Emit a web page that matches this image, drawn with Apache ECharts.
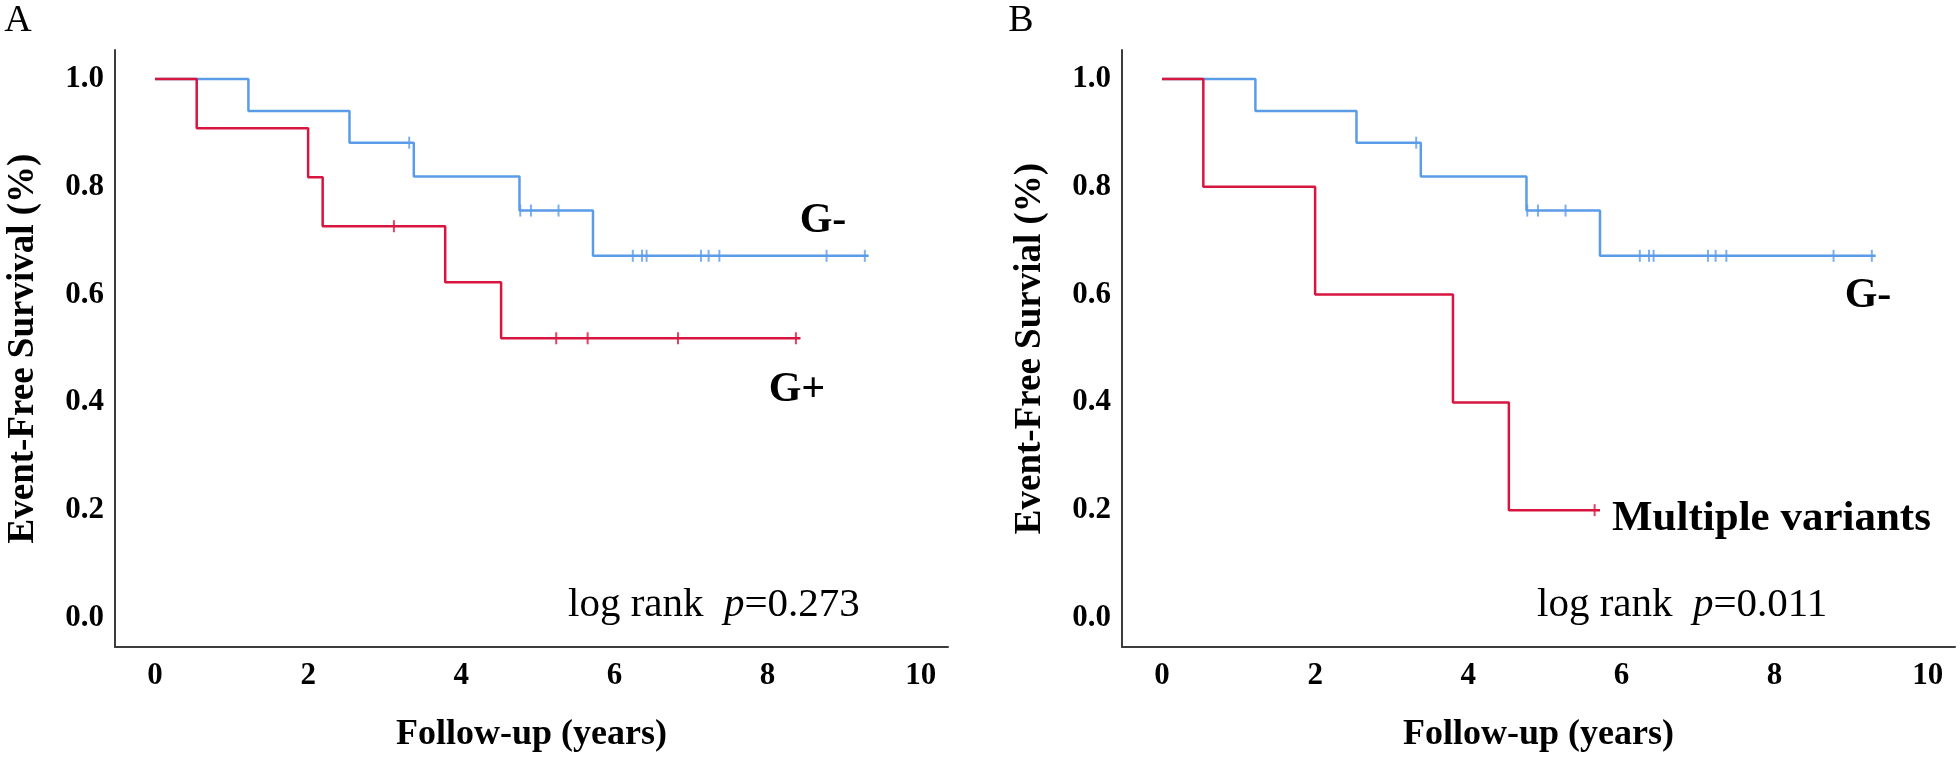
<!DOCTYPE html>
<html>
<head>
<meta charset="utf-8">
<script src="https://cdn.jsdelivr.net/npm/echarts@6/dist/echarts.min.js"></script>
<style>
html,body{margin:0;padding:0;background:#fff;}
#c{width:1960px;height:758px;}
</style>
</head>
<body>
<div id="c"></div>
<script>
// ---- data ----
const xTicks = [0, 2, 4, 6, 8, 10];
const yTicks = [0, 0.2, 0.4, 0.6, 0.8, 1.0];

// G- group (same in both panels)
const gNegTimes = [0, 1.22, 2.54, 3.38, 4.76, 5.72, 9.32];
const gNegSurv  = [1, 0.941, 0.882, 0.819, 0.756, 0.672, 0.672];
const gNegCensor = [3.32, 4.77, 4.91, 5.27, 6.24, 6.36, 6.42, 7.13, 7.23, 7.37, 8.77, 9.27];

// G+ group (panel A)
const gPosTimes = [0, 0.545, 2.0, 2.19, 3.79, 4.52, 8.43];
const gPosSurv  = [1, 0.909, 0.818, 0.727, 0.623, 0.519, 0.519];
const gPosCensor = [3.12, 5.24, 5.65, 6.83, 8.37];

// Multiple variants group (panel B)
const multiTimes = [0, 0.54, 2.0, 3.80, 4.53, 5.72];
const multiSurv  = [1, 0.8, 0.6, 0.4, 0.2, 0.2];
const multiCensor = [5.65];

const BLUE = '#5B9CE8';
const RED = '#D7153F';
const SERIF = '"Liberation Serif", "Times New Roman", serif';

function pairs(t, s) { return t.map((v, i) => [v, s[i]]); }
function survAt(t, s, x) {
  let v = s[0];
  for (let i = 0; i < t.length; i++) { if (t[i] <= x) v = s[i]; }
  return v;
}
function censorPts(t, s, c) { return c.map(x => [x, survAt(t, s, x)]); }

function xAxisCfg(gi) {
  return {
    type: 'value', gridIndex: gi, min: -0.522, max: 10.356,
    name: 'Follow-up (years)', nameLocation: 'middle', nameGap: 70,
    nameTextStyle: { fontFamily: SERIF, fontWeight: 'bold', fontSize: 36, color: '#000' },
    axisLine: { onZero: false, lineStyle: { color: '#3c3c3c', width: 2 } },
    axisTick: { show: false },
    splitLine: { show: false },
    axisLabel: {
      customValues: xTicks, margin: 13,
      fontFamily: SERIF, fontWeight: 'bold', fontSize: 31, color: '#000'
    }
  };
}
function yAxisCfg(gi, name) {
  return {
    type: 'value', gridIndex: gi, min: -0.054, max: 1.054,
    name: name, nameLocation: 'middle', nameGap: 73, nameRotate: 90,
    nameTextStyle: { fontFamily: SERIF, fontWeight: 'bold', fontSize: 37, color: '#000' },
    axisLine: { onZero: false, lineStyle: { color: '#3c3c3c', width: 2 } },
    axisTick: { show: false },
    splitLine: { show: false },
    axisLabel: {
      customValues: yTicks, margin: 11,
      formatter: v => v.toFixed(1),
      fontFamily: SERIF, fontWeight: 'bold', fontSize: 31, color: '#000'
    }
  };
}
function stepSeries(gi, t, s, color) {
  return {
    type: 'line', xAxisIndex: gi, yAxisIndex: gi, step: 'end',
    data: pairs(t, s), showSymbol: false, silent: true,
    lineStyle: { color: color, width: 2.5 }
  };
}
function censorSeries(gi, t, s, c, color) {
  return {
    type: 'scatter', xAxisIndex: gi, yAxisIndex: gi,
    data: censorPts(t, s, c), symbol: 'rect', symbolSize: [2, 12],
    itemStyle: { color: color }, silent: true
  };
}

const chart = echarts.init(document.getElementById('c'), null, { renderer: 'canvas' });
chart.setOption({
  animation: false,
  backgroundColor: '#fff',
  grid: [
    { left: 115, top: 50, width: 833, height: 598 },
    { left: 1122, top: 50, width: 833, height: 598 }
  ],
  xAxis: [xAxisCfg(0), xAxisCfg(1)],
  yAxis: [yAxisCfg(0, 'Event-Free Survival (%)'), yAxisCfg(1, 'Event-Free Survial (%)')],
  series: [
    stepSeries(0, gNegTimes, gNegSurv, BLUE),
    stepSeries(0, gPosTimes, gPosSurv, RED),
    censorSeries(0, gNegTimes, gNegSurv, gNegCensor, BLUE),
    censorSeries(0, gPosTimes, gPosSurv, gPosCensor, RED),
    stepSeries(1, gNegTimes, gNegSurv, BLUE),
    stepSeries(1, multiTimes, multiSurv, RED),
    censorSeries(1, gNegTimes, gNegSurv, gNegCensor, BLUE),
    censorSeries(1, multiTimes, multiSurv, multiCensor, RED)
  ],
  graphic: [
    { type: 'text', x: 18, y: 21, style: { text: 'A', font: '38px ' + SERIF, fill: '#000', align: 'center', verticalAlign: 'middle' } },
    { type: 'text', x: 1021, y: 21, style: { text: 'B', font: '38px ' + SERIF, fill: '#000', align: 'center', verticalAlign: 'middle' } },
    { type: 'text', x: 823, y: 221, style: { text: 'G-', font: 'bold 42px ' + SERIF, fill: '#000', align: 'center', verticalAlign: 'middle' } },
    { type: 'text', x: 797, y: 390, style: { text: 'G+', font: 'bold 42px ' + SERIF, fill: '#000', align: 'center', verticalAlign: 'middle' } },
    { type: 'text', x: 1868, y: 296, style: { text: 'G-', font: 'bold 42px ' + SERIF, fill: '#000', align: 'center', verticalAlign: 'middle' } },
    { type: 'text', x: 1612, y: 519, style: { text: 'Multiple variants', font: 'bold 43px ' + SERIF, fill: '#000', align: 'left', verticalAlign: 'middle' } },
    { type: 'text', x: 568, y: 605, style: {
        text: '{a|log rank  }{b|p}{a|=0.273}', align: 'left', verticalAlign: 'middle',
        rich: {
          a: { fontFamily: SERIF, fontSize: 41, fill: '#000', color: '#000' },
          b: { fontFamily: SERIF, fontSize: 41, fontStyle: 'italic', fill: '#000', color: '#000' }
        } } },
    { type: 'text', x: 1537, y: 605, style: {
        text: '{a|log rank  }{b|p}{a|=0.011}', align: 'left', verticalAlign: 'middle',
        rich: {
          a: { fontFamily: SERIF, fontSize: 41, fill: '#000', color: '#000' },
          b: { fontFamily: SERIF, fontSize: 41, fontStyle: 'italic', fill: '#000', color: '#000' }
        } } }
  ]
});
</script>
</body>
</html>
